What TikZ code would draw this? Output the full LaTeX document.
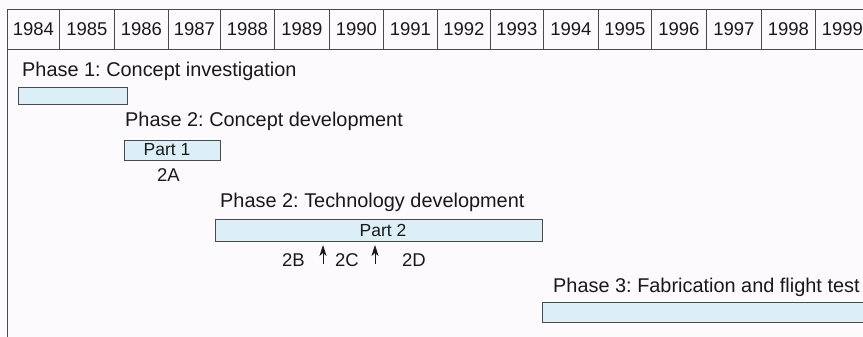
\documentclass[tikz,border=0pt]{standalone}
\usepackage{fontspec}
\setmainfont{Liberation Sans}
\usetikzlibrary{arrows.meta}
\frenchspacing
\definecolor{lineC}{HTML}{4A4A4A}
\definecolor{barC}{HTML}{DCEFF7}
\definecolor{bgC}{HTML}{FCFAFD}
\tikzset{
  yearcell/.style={draw=lineC, line width=0.9pt, minimum height=40pt, inner sep=0pt, anchor=north west, text=black!90, font=\fontsize{18.5}{22}\selectfont},
  bar/.style={draw=lineC, fill=barC, line width=0.9pt, anchor=north west, inner sep=0pt},
  barlabel/.style={inner sep=0pt, anchor=base, text=black!90, font=\fontsize{17.5}{21}\selectfont},
  phase/.style={anchor=base west, inner sep=0pt, text=black!90, font=\fontsize{19.9}{24}\selectfont},
  lbl/.style={anchor=base west, inner sep=0pt, text=black!90, font=\fontsize{18.5}{22}\selectfont},
  marker/.style={draw=black!90, line width=0.8pt, -{Stealth[length=11pt,width=7pt,inset=3pt]}}
}
\begin{document}
\begin{tikzpicture}[x=1pt,y=-1pt]
\useasboundingbox (0,0) rectangle (863,337);
\fill[bgC] (0,0) rectangle (863,337);
\begin{scope}
\clip (0,0) rectangle (863,337);
\draw[lineC, line width=0.9pt] (7,9) rectangle (890,360);
\foreach \yr/\x/\w in {1984/7/52,1985/59/55,1986/114/54,1987/168/52,1988/220/54,1989/274/55,1990/329/54,1991/383/54,1992/437/53,1993/490/53,1994/543/55,1995/598/53,1996/651/55,1997/706/55,1998/761/54,1999/815/54}
  \node[yearcell, minimum width=\w pt] (y\yr) at (\x,9) {\yr};
% Phase 1
\node[phase] (p1) at (22,77) {Phase 1: Concept investigation};
\node[bar, minimum width=109pt, minimum height=17pt] (b1) at (18,87) {};
% Phase 2 concept
\node[phase] (p2a) at (125,127) {Phase 2: Concept development};
\node[bar, minimum width=96pt, minimum height=20pt] (b2a) at (124,140) {};
\node[barlabel] (part1) at (167,155) {Part 1};
\node[lbl] (l2a) at (157,181) {2A};
% Phase 2 technology
\node[phase] (p2b) at (220,207) {Phase 2: Technology development};
\node[bar, minimum width=327pt, minimum height=22pt] (b2b) at (215,219) {};
\node[barlabel] (part2) at (383,236) {Part 2};
\node[lbl] (l2b) at (282,266) {2B};
\node[lbl] (l2c) at (335,266) {2C};
\node[lbl] (l2d) at (402,266) {2D};
\coordinate (a1s) at (323,264);
\coordinate (a1e) at (323,245);
\coordinate (a2s) at (375,264);
\coordinate (a2e) at (375,245);
\draw[marker] (a1s) -- (a1e);
\draw[marker] (a2s) -- (a2e);
% Phase 3
\node[phase] (p3) at (553,292) {Phase 3: Fabrication and flight test};
\node[bar, minimum width=350pt, minimum height=20pt] (b3) at (542,302) {};
\end{scope}
\end{tikzpicture}
\end{document}
